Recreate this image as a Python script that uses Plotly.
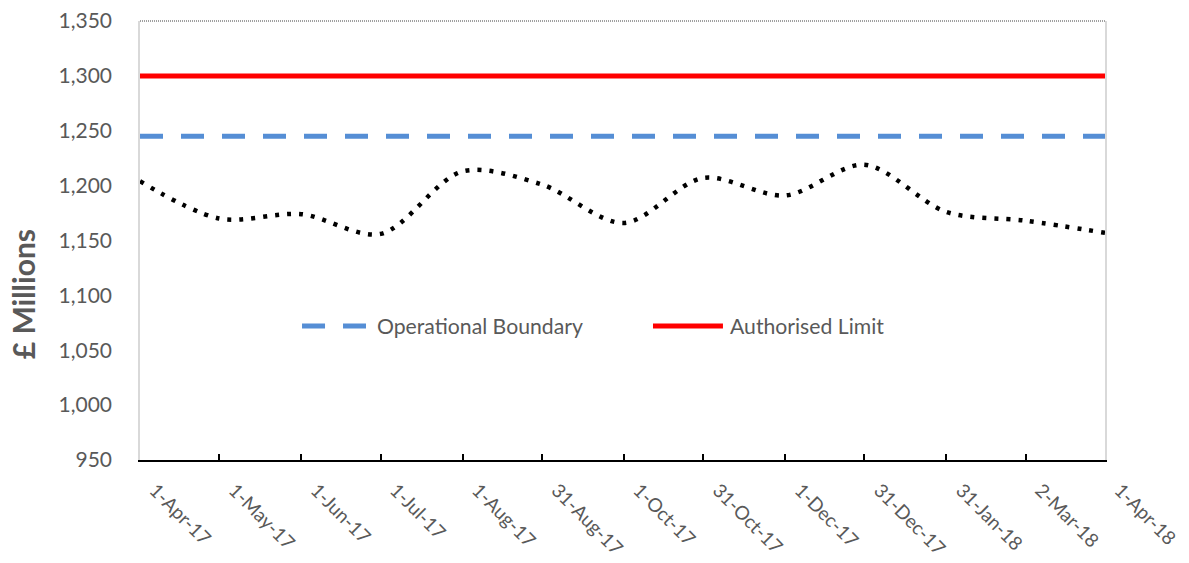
import plotly.graph_objects as go

# ---- data ----
dates = ["2017-04-01", "2017-05-01", "2017-06-01", "2017-07-01", "2017-08-01",
         "2017-08-31", "2017-10-01", "2017-10-31", "2017-12-01", "2017-12-31",
         "2018-01-31", "2018-03-02", "2018-04-01"]
tick_labels = ["1-Apr-17", "1-May-17", "1-Jun-17", "1-Jul-17", "1-Aug-17",
               "31-Aug-17", "1-Oct-17", "31-Oct-17", "1-Dec-17", "31-Dec-17",
               "31-Jan-18", "2-Mar-18", "1-Apr-18"]
debt = [1204, 1170, 1174, 1156, 1213, 1201, 1166, 1207, 1191, 1219, 1176, 1168, 1157]
operational_boundary = [1245] * len(dates)
authorised_limit = [1300] * len(dates)
y_ticks = [950, 1000, 1050, 1100, 1150, 1200, 1250, 1300, 1350]

grey = "#595959"
blue = "#558ED5"
red = "#FF0000"
font_family = "Lato, 'Open Sans', sans-serif"

fig = go.Figure()
fig.add_trace(go.Scatter(x=dates, y=operational_boundary, mode="lines",
                         name="Operational Boundary", showlegend=False,
                         line=dict(color=blue, width=5, dash="23px,18px")))
fig.add_trace(go.Scatter(x=dates, y=authorised_limit, mode="lines",
                         name="Authorised Limit", showlegend=False,
                         line=dict(color=red, width=5)))
fig.add_trace(go.Scatter(x=dates, y=debt, mode="lines", name="Debt",
                         showlegend=False,
                         line=dict(color="#000000", width=4.5, dash="4px,8px",
                                   shape="spline", smoothing=0.9)))

# manual legend
leg_y = 0.305
fig.add_shape(type="line", xref="paper", yref="paper", x0=0.1679, x1=0.2342,
              y0=leg_y, y1=leg_y, line=dict(color=blue, width=5, dash="23px,18px"))
fig.add_shape(type="line", xref="paper", yref="paper", x0=0.5316, x1=0.6041,
              y0=leg_y, y1=leg_y, line=dict(color=red, width=5))
fig.add_annotation(xref="paper", yref="paper", x=0.2435, y=leg_y, xanchor="left",
                   yanchor="middle", text="Operational Boundary", showarrow=False,
                   font=dict(size=21.2, color=grey, family=font_family))
fig.add_annotation(xref="paper", yref="paper", x=0.6093, y=leg_y, xanchor="left",
                   yanchor="middle", text="Authorised Limit", showarrow=False,
                   font=dict(size=21.2, color=grey, family=font_family))

# top dotted border
fig.add_shape(type="line", xref="paper", yref="paper", x0=0, x1=1, y0=1, y1=1,
              line=dict(color="#404040", width=1, dash="1px,1px"))

# y-axis title
fig.add_annotation(xref="paper", yref="paper", x=-0.121, y=0.378, xanchor="center",
                   yanchor="middle", text="<b>£ Millions</b>", textangle=-90,
                   showarrow=False, font=dict(size=30, color=grey, family=font_family))

fig.update_layout(
    width=1189, height=563,
    margin=dict(l=140, r=84, t=21, b=103),
    paper_bgcolor="white", plot_bgcolor="white",
    font=dict(family=font_family, color=grey),
    showlegend=False,
    xaxis=dict(type="date", range=[dates[0], dates[-1]],
               tickvals=dates, ticktext=tick_labels, tickangle=45,
               tickfont=dict(size=19, color=grey),
               showgrid=False, zeroline=False, automargin=False,
               showline=True, linecolor="#000000", linewidth=1.5,
               ticks="inside", ticklen=6, tickcolor="#000000", tickwidth=1.5,
               ticklabelstandoff=10, ticklabelshift=15),
    yaxis=dict(range=[950, 1350], tickvals=y_ticks, tickformat=",",
               tickfont=dict(size=21, color=grey), automargin=False,
               showgrid=False, zeroline=False,
               showline=True, linecolor="#D9D9D9", linewidth=1.5, mirror=True,
               ticks="", ticklabelstandoff=22),
)

fig.write_html("out.html", config={"displayModeBar": False},
               post_script="document.body.style.margin='0';document.body.style.overflow='hidden';")
